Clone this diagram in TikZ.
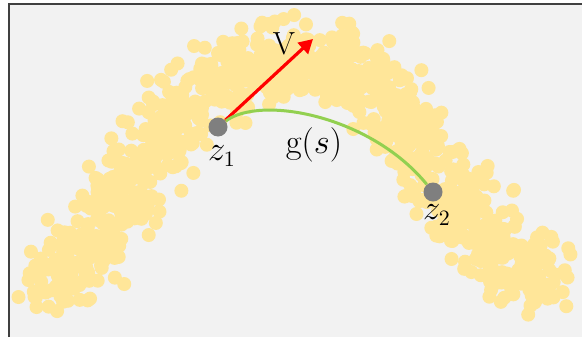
\documentclass[tikz,border=0pt]{standalone}
\usepackage{amsmath}
\usepackage{xcolor}
\usepackage{tikz}
\usetikzlibrary{arrows.meta,positioning}

\definecolor{panelgray}{HTML}{F2F2F2}
\definecolor{framegray}{HTML}{404040}
\definecolor{sampleyellow}{HTML}{FFE699}
\definecolor{latentgray}{HTML}{7F7F7F}
\definecolor{geogreen}{HTML}{92D050}

\begin{document}
\begin{tikzpicture}[
  x=0.5pt, y=-0.5pt,
  sample/.style={fill=sampleyellow},
  latent/.style={circle, fill=latentgray, inner sep=0pt, minimum size=9.5pt},
  lbl/.style={font=\fontsize{16}{18}\selectfont, inner sep=0pt},
  vec/.style={red, line width=1.6pt, -{Triangle[length=7pt, width=7.5pt]}},
  geo/.style={geogreen, line width=1.5pt}
]
\useasboundingbox (0,0) rectangle (582,337);
\fill[panelgray] (9,4) rectangle (582,337);
\draw[framegray, line width=1pt] (9,337) -- (9,4) -- (582,4);

% samples along the manifold
\begin{scope}
\clip (10,5) rectangle (582,337);
\pgfmathsetseed{11}
\foreach \cx/\cy in {52/276, 62/272, 73/265, 84/254, 95/240, 105/224, 115/208,
    125/192, 136/176, 147/160, 159/142, 172/124, 186/108, 200/95, 214/84,
    229/75, 244/68, 259/63, 274/60, 290/58, 305/59, 320/61, 334/65, 348/71,
    361/80, 373/90, 385/100, 397/112, 408/126, 418/140, 428/155, 438/170,
    447/185, 456/200, 466/215, 477/229, 489/242, 502/254, 516/264, 530/272,
    544/278}{
  \foreach \k in {1,...,26}{
    \pgfmathsetmacro{\dx}{(rand+rand)*23}
    \pgfmathsetmacro{\dy}{(rand+rand)*23}
    \fill[sample] (\cx+\dx,\cy+\dy) circle (3.5pt);
  }
}
\end{scope}

\node[latent] (z1) at (218,127) {};
\node[latent] (z2) at (433,192) {};
\coordinate (vtip) at (313,39);

\draw[vec] (z1) -- (vtip);
\draw[geo] (z1) .. controls (260,95) and (370,115) .. (z2);

\node[lbl] (vlbl) at (284,44) {V};
\node[lbl] (z1lbl) at (222,156) {$z_1$};
\node[lbl] (glbl) at (314,145) {$\mathrm{g}(s)$};
\node[lbl] (z2lbl) at (437,215) {$z_2$};
\end{tikzpicture}
\end{document}
